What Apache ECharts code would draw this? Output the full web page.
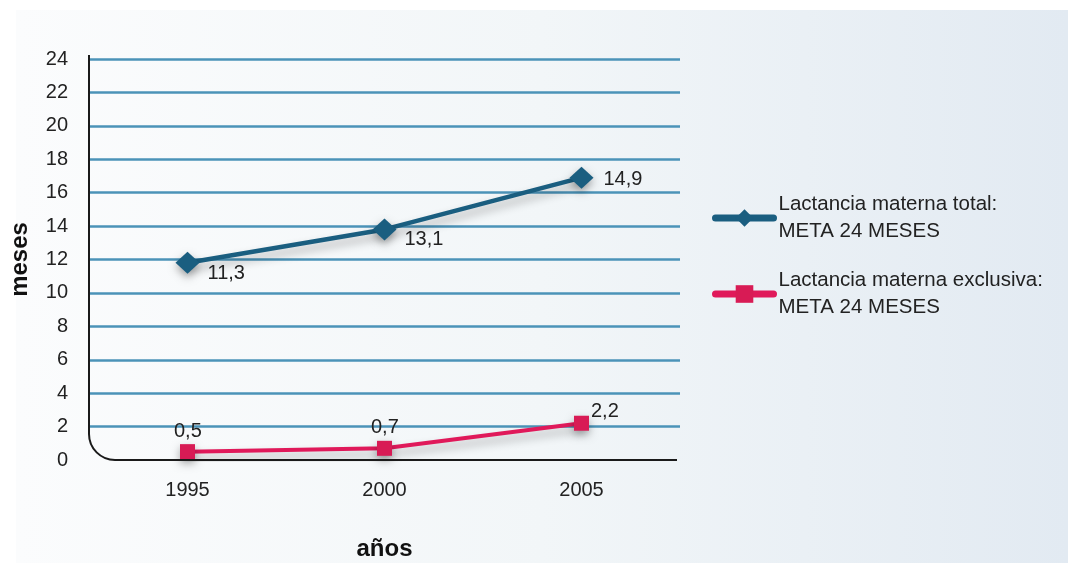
<!DOCTYPE html>
<html>
<head>
<meta charset="utf-8">
<script src="https://cdn.jsdelivr.net/npm/echarts@6/dist/echarts.min.js"></script>
<style>
html,body{margin:0;padding:0;background:#fff;}
#main{width:1068px;height:563px;}
</style>
</head>
<body>
<div id="main"></div>
<script>
// datos
var anos = ['1995', '2000', '2005'];
var totalVals = [11.8, 13.8, 16.9];
var totalLabels = ['11,3', '13,1', '14,9'];
var exclVals = [0.5, 0.7, 2.2];
var exclLabels = ['0,5', '0,7', '2,2'];
var nombres = ['Lactancia materna total:\nMETA 24 MESES', 'Lactancia materna exclusiva:\nMETA 24 MESES'];

var fuente = 'Liberation Sans, Arial, sans-serif';
var azul = '#1a5e80', rosa = '#e0195a';

// posiciones de las etiquetas (relativas al simbolo)
var posTotal = [[32, 12], [32, 11], [34, 3]];
var posExcl = [[-6, -23], [-6, -23], [17, -14]];

var totalData = totalVals.map(function (v, i) {
    return {value: v, label: {position: posTotal[i]}};
});
var exclData = exclVals.map(function (v, i) {
    return {value: v, label: {position: posExcl[i]}};
});

var myChart = echarts.init(document.getElementById('main'));

var option = {
    animation: false,
    backgroundColor: '#fff',
    textStyle: {fontFamily: fuente},
    grid: {left: 89, right: 388, top: 59, bottom: 103, outerBoundsMode: 'none'},
    legend: {
        orient: 'vertical',
        left: 707,
        top: 186,
        itemWidth: 58,
        itemHeight: 22,
        itemGap: 22,
        textStyle: {fontSize: 20.5, color: '#222', lineHeight: 27, fontFamily: fuente},
        data: [
            {name: nombres[0], lineStyle: {width: 7, cap: 'round'}},
            {name: nombres[1], lineStyle: {width: 7, cap: 'round'}}
        ]
    },
    xAxis: {
        type: 'category',
        data: anos,
        boundaryGap: true,
        axisLine: {show: false},
        axisTick: {show: false},
        axisLabel: {fontSize: 20, color: '#222', margin: 20},
        name: 'años',
        nameLocation: 'middle',
        nameGap: 77,
        nameTextStyle: {fontSize: 24, fontWeight: 'bold', color: '#111'}
    },
    yAxis: {
        type: 'value',
        min: 0,
        max: 24,
        interval: 2,
        axisLine: {show: false},
        axisTick: {show: false},
        axisLabel: {fontSize: 20, color: '#222', margin: 21},
        splitLine: {showMinLine: false, lineStyle: {color: '#4b93b8', width: 2.5}},
        name: 'meses',
        nameLocation: 'middle',
        nameGap: 57,
        nameRotate: 90,
        nameTextStyle: {fontSize: 24, fontWeight: 'bold', color: '#111'}
    },
    series: [
        {
            name: nombres[0],
            type: 'line',
            data: totalData,
            symbol: 'diamond',
            symbolSize: [24, 22],
            itemStyle: {color: azul, shadowColor: 'rgba(0,0,0,0.35)', shadowBlur: 8, shadowOffsetY: 4},
            lineStyle: {color: azul, width: 4.5, shadowColor: 'rgba(0,0,0,0.3)', shadowBlur: 10, shadowOffsetY: 6},
            label: {
                show: true,
                fontSize: 20,
                color: '#222',
                formatter: function (p) { return totalLabels[p.dataIndex]; }
            },
            z: 3
        },
        {
            name: nombres[1],
            type: 'line',
            data: exclData,
            symbol: 'rect',
            symbolSize: 15,
            itemStyle: {color: '#d81b55', shadowColor: 'rgba(0,0,0,0.35)', shadowBlur: 8, shadowOffsetY: 4},
            lineStyle: {color: rosa, width: 4, shadowColor: 'rgba(0,0,0,0.3)', shadowBlur: 10, shadowOffsetY: 6},
            label: {
                show: true,
                fontSize: 20,
                color: '#222',
                formatter: function (p) { return exclLabels[p.dataIndex]; }
            },
            z: 3
        }
    ]
};
myChart.setOption(option);

// fondo degradado y ejes con esquina redondeada
var p0 = myChart.convertToPixel({gridIndex: 0}, [0, 0]);
var pTop = myChart.convertToPixel({gridIndex: 0}, [0, 24]);
var x0 = 89, x1 = 1068 - 388, yb = p0[1], yt = pTop[1], r = 26;
var trazo = {stroke: '#1a1a1a', lineWidth: 2, fill: null};
myChart.setOption({
    graphic: [
        {
            type: 'rect', z: -10, silent: true,
            shape: {x: 16, y: 10, width: 1052, height: 553},
            style: {fill: new echarts.graphic.LinearGradient(0, 0, 1, 0, [
                {offset: 0, color: '#fbfcfd'},
                {offset: 0.5, color: '#f2f6f8'},
                {offset: 1, color: '#e2eaf2'}
            ])}
        },
        {
            type: 'line', z: 5, silent: true,
            shape: {x1: x0, y1: yt - 4, x2: x0, y2: yb - r},
            style: trazo
        },
        {
            type: 'arc', z: 5, silent: true,
            shape: {cx: x0 + r, cy: yb - r, r: r, startAngle: Math.PI / 2, endAngle: Math.PI, clockwise: true},
            style: trazo
        },
        {
            type: 'line', z: 5, silent: true,
            shape: {x1: x0 + r, y1: yb, x2: x1 - 3, y2: yb},
            style: trazo
        }
    ]
});
</script>
</body>
</html>
